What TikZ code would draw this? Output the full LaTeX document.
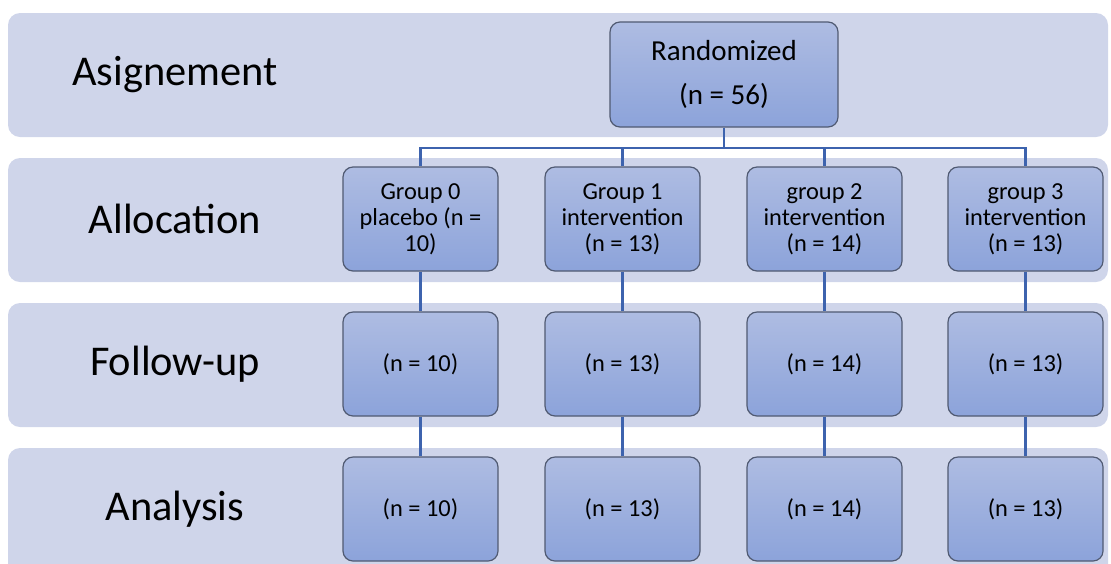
\documentclass[tikz,border=0pt]{standalone}
\usepackage{fontspec}
\setmainfont{Carlito}
\usetikzlibrary{positioning}
\definecolor{bandc}{HTML}{CFD5EA}
\definecolor{boxtop}{HTML}{AEBCE2}
\definecolor{boxbot}{HTML}{8CA3DA}
\definecolor{boxline}{HTML}{505A72}
\definecolor{linkc}{HTML}{3D63AE}
\begin{document}
\begin{tikzpicture}[x=0.5pt,y=-0.5pt,every node/.style={font=\fontsize{12.2}{13}\selectfont}]
\tikzstyle{band} = [fill=bandc, rounded corners=6pt]
\tikzstyle{stage} = [font=\fontsize{21.2}{24}\selectfont]
\tikzstyle{box} = [draw=boxline, line width=0.6pt, rounded corners=5pt, top color=boxtop, bottom color=boxbot, minimum width=77.5pt, minimum height=52pt, align=center, inner sep=2pt]
\tikzstyle{link} = [draw=linkc, line width=1.2pt]
\useasboundingbox (0,0) rectangle (1111,563);
\clip (0,0) rectangle (1111,563);

\fill[band] (8,13) rectangle (1108,137);
\fill[band] (8,158) rectangle (1108,282);
\fill[band] (8,303) rectangle (1108,427);
\fill[band] (8,448) rectangle (1108,580);

\node[stage] (asg) at (175,75) {Asignement};
\node[stage] (alc) at (175,219) {Allocation};
\node[stage] (fol) at (175,364) {Follow-up};
\node[stage] (ana) at (175,509) {Analysis};

\node[box, minimum width=114pt, minimum height=52.5pt, font=\fontsize{14.5}{22}\selectfont] (rand) at (724,74.5) {Randomized\\(n = 56)};

\node[box] (g0) at (420.5,219) {Group 0\\placebo (n =\\10)};
\node[box] (g1) at (622.5,219) {Group 1\\intervention\\(n = 13)};
\node[box] (g2) at (824.5,219) {group 2\\intervention\\(n = 14)};
\node[box] (g3) at (1025.5,219) {group 3\\intervention\\(n = 13)};

\node[box] (f0) at (420.5,364) {(n = 10)};
\node[box] (f1) at (622.5,364) {(n = 13)};
\node[box] (f2) at (824.5,364) {(n = 14)};
\node[box] (f3) at (1025.5,364) {(n = 13)};

\node[box] (a0) at (420.5,509) {(n = 10)};
\node[box] (a1) at (622.5,509) {(n = 13)};
\node[box] (a2) at (824.5,509) {(n = 14)};
\node[box] (a3) at (1025.5,509) {(n = 13)};

\coordinate (split) at (724,148);
\draw[link] (rand) -- (split);
\foreach \g in {g0,g1,g2,g3}
  \draw[link] (split) -| (\g.north);
\foreach \i in {0,1,2,3}{
  \draw[link] (g\i) -- (f\i);
  \draw[link] (f\i) -- (a\i);
}
\end{tikzpicture}
\end{document}
